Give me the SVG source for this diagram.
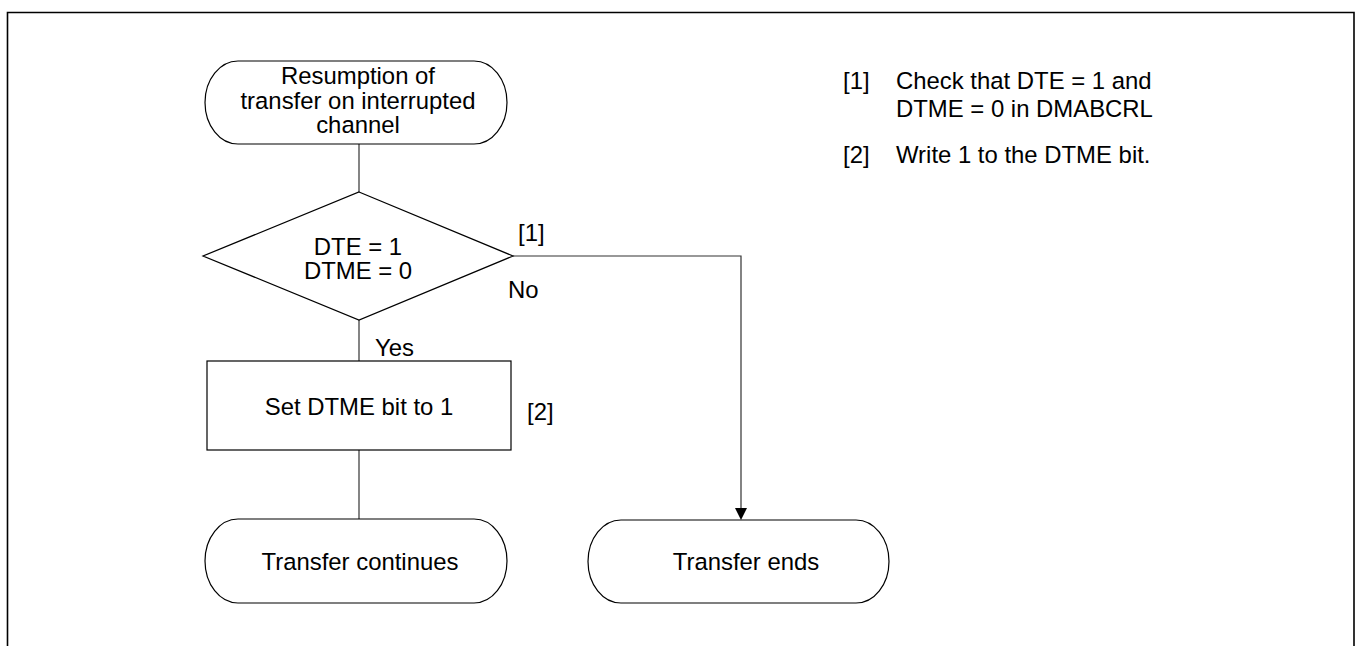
<svg xmlns="http://www.w3.org/2000/svg" width="1359" height="646" viewBox="0 0 1359 646">
<style>
  text { font-family: "Liberation Sans", Arial, sans-serif; font-size: 23.9px; fill: #000; }
  .c { text-anchor: middle; }
  .shape { fill: #fff; stroke: #000; stroke-width: 1.2; }
  .conn { fill: none; stroke: #333; stroke-width: 1.2; }
</style>
<rect x="0" y="0" width="1359" height="646" fill="#fff"/>
<path d="M7.5,660 L7.5,12.5 L1354,12.5 L1354,660" fill="none" stroke="#000" stroke-width="1.6"/>

<g id="connectors">
  <line class="conn" x1="359" y1="144" x2="359" y2="192"/>
  <line class="conn" x1="359" y1="320" x2="359" y2="361"/>
  <line class="conn" x1="359" y1="450" x2="359" y2="519"/>
  <path class="conn" d="M513,256 L741,256 L741,508"/>
  <path d="M735,508 L747,508 L741,520 Z" fill="#000"/>
</g>

<g id="start">
  <rect class="shape" x="205" y="61" width="302" height="83" rx="33" ry="41.5"/>
  <text class="c" x="358" y="84">Resumption of</text>
  <text class="c" x="358" y="109">transfer on interrupted</text>
  <text class="c" x="358" y="133">channel</text>
</g>

<g id="decision">
  <polygon class="shape" points="359,192 513,256 359,320 203,256"/>
  <text class="c" x="358" y="255">DTE = 1</text>
  <text class="c" x="358" y="279">DTME = 0</text>
</g>

<g id="labels">
  <text x="518" y="241">[1]</text>
  <text x="508" y="298">No</text>
  <text x="375" y="356">Yes</text>
  <text x="527" y="420">[2]</text>
</g>

<g id="process">
  <rect class="shape" x="207" y="361" width="304" height="89"/>
  <text class="c" x="359" y="415">Set DTME bit to 1</text>
</g>

<g id="continues">
  <rect class="shape" x="205" y="519" width="302" height="84" rx="33" ry="42"/>
  <text class="c" x="360" y="570">Transfer continues</text>
</g>

<g id="ends">
  <rect class="shape" x="588" y="520" width="301" height="83" rx="33" ry="41.5"/>
  <text class="c" x="746" y="570">Transfer ends</text>
</g>

<g id="legend">
  <text x="843" y="89">[1]</text>
  <text x="896" y="89">Check that DTE = 1 and</text>
  <text x="896" y="117">DTME = 0 in DMABCRL</text>
  <text x="843" y="163">[2]</text>
  <text x="896" y="163">Write 1 to the DTME bit.</text>
</g>
</svg>
